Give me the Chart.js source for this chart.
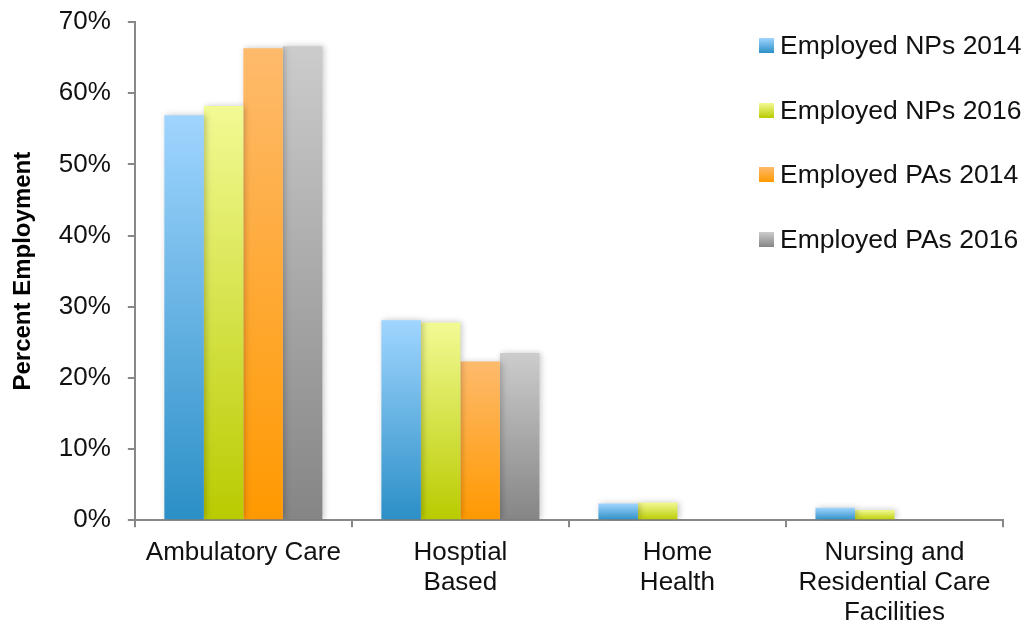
<!DOCTYPE html>
<html>
<head>
<meta charset="utf-8">
<script src="https://cdn.jsdelivr.net/npm/chart.js@4.4.1/dist/chart.umd.min.js"></script>
<style>
  body { margin: 0; background: #fff; font-family: "Liberation Sans", Arial, sans-serif; }
  #wrap { position: relative; width: 1026px; height: 625px; }
  #legend { position: absolute; left: 759px; top: 24px; }
  .item { display: flex; align-items: center; height: 43px; margin-bottom: 21.5px; font-size: 26.5px; color: #111; white-space: nowrap; }
  .box { width: 15px; height: 15px; margin-right: 6px; }
</style>
</head>
<body>
<div id="wrap">
  <canvas id="chart"></canvas>
  <div id="legend"></div>
</div>
<script>
const categories = ["Ambulatory Care", ["Hosptial", "Based"], ["Home", "Health"], ["Nursing and", "Residential Care", "Facilities"]];
const seriesNames = ["Employed NPs 2014", "Employed NPs 2016", "Employed PAs 2014", "Employed PAs 2016"];
const npValues2014 = [56.9, 28.1, 2.35, 1.75];
const npValues2016 = [58.2, 27.8, 2.5, 1.45];
const paValues2014 = [66.3, 22.3, 0, 0];
const paValues2016 = [66.6, 23.5, 0, 0];
const yTicks = [0, 10, 20, 30, 40, 50, 60, 70];

// light top -> dark bottom, per bar
const shades = [
    ["#a0d5ff", "#2b8fc6"],
    ["#f2fa94", "#b9cb00"],
    ["#feba6c", "#ff9900"],
    ["#cccccc", "#858585"]
];

function barGradient(i) {
    return (ctx) => {
        const chart = ctx.chart;
        if (!chart.chartArea || ctx.type !== "data") return shades[i][0];
        const y = chart.scales.y;
        const top = y.getPixelForValue(ctx.raw);
        const base = y.getPixelForValue(0);
        if (base - top < 1) return shades[i][0];
        const g = chart.ctx.createLinearGradient(0, top, 0, base);
        g.addColorStop(0, shades[i][0]);
        g.addColorStop(1, shades[i][1]);
        return g;
    };
}

const allValues = [npValues2014, npValues2016, paValues2014, paValues2016];

// soft shadow behind bars
const shadowPlugin = {
    id: "barShadow",
    beforeDatasetsDraw(chart) {
        const c = chart.ctx;
        c.save();
        c.shadowColor = "rgba(0,0,0,0.22)";
        c.shadowBlur = 6;
        c.shadowOffsetX = 2;
        c.shadowOffsetY = 0;
    },
    afterDatasetsDraw(chart) {
        chart.ctx.restore();
    }
};

const tickFont = { family: "'Liberation Sans', Arial, sans-serif", size: 26, lineHeight: 1.15 };

new Chart(document.getElementById("chart"), {
    type: "bar",
    data: {
        labels: categories,
        datasets: allValues.map((vals, i) => ({
            label: seriesNames[i],
            data: vals,
            backgroundColor: barGradient(i),
            borderWidth: 0,
            barPercentage: 1,
            categoryPercentage: 0.728
        }))
    },
    options: {
        responsive: true,
        maintainAspectRatio: false,
        animation: false,
        layout: { padding: { top: 22, right: 23, left: 9, bottom: -14 } },
        scales: {
            x: {
                grid: { display: true, drawOnChartArea: false, offset: true, tickLength: 7, color: "#888", lineWidth: 2 },
                border: { color: "#888", width: 2 },
                ticks: { font: tickFont, color: "#111", padding: 11, maxRotation: 0 }
            },
            y: {
                min: 0,
                max: 70,
                afterBuildTicks: (axis) => { axis.ticks = yTicks.map(v => ({ value: v })); },
                // tick padding would otherwise push the plot top down
                afterFit: (axis) => { axis.paddingTop = 0; },
                grid: { display: true, drawOnChartArea: false, tickLength: 7, color: "#888", lineWidth: 2 },
                border: { color: "#888", width: 2 },
                ticks: { font: tickFont, color: "#111", padding: 17, callback: (v) => v + "%" },
                title: {
                    display: true,
                    text: "Percent Employment",
                    font: { family: "'Liberation Sans', Arial, sans-serif", size: 24, weight: "bold" },
                    color: "#000",
                    padding: { top: 0, bottom: 4 }
                }
            }
        },
        plugins: {
            legend: { display: false },
            tooltip: { enabled: false }
        }
    },
    plugins: [shadowPlugin]
});

// legend on the right, drawn over the plot
const legend = document.getElementById("legend");
seriesNames.forEach((name, i) => {
    const row = document.createElement("div");
    row.className = "item";
    row.innerHTML = `<span class="box" style="background: linear-gradient(${shades[i][0]}, ${shades[i][1]})"></span>${name}`;
    legend.appendChild(row);
});
</script>
</body>
</html>
